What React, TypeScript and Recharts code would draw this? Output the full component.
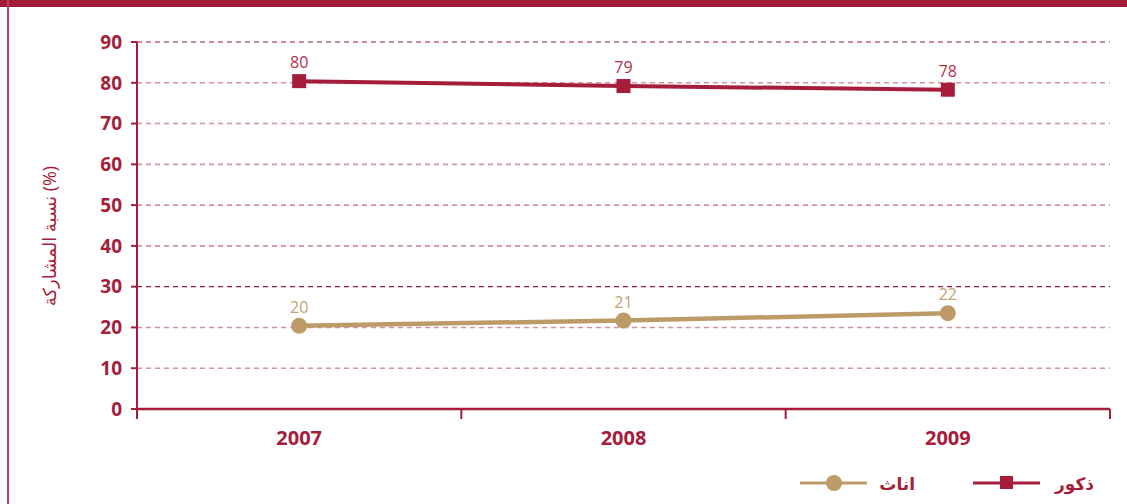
import React from 'react';
import { LineChart, Line, XAxis, YAxis, CartesianGrid, LabelList } from 'recharts';

const years = [2007, 2008, 2009];
const maleValues = [80.4, 79.2, 78.3];
const maleLabels = [80, 79, 78];
const femaleValues = [20.4, 21.7, 23.5];
const femaleLabels = [20, 21, 22];
const yTicks = [0, 10, 20, 30, 40, 50, 60, 70, 80, 90];
const darkGridValues = [30, 90];
const lightGridValues = [10, 20, 40, 50, 60, 70, 80];
const xDomain = [2006.5, 2009.5];
const xTicks = [2006.5, 2007, 2007.5, 2008, 2008.5, 2009, 2009.5];
const maleName = 'ذكور';
const femaleName = 'اناث';
const yTitle = 'نسبة المشاركة (%)';

const RED = '#a51d3b';
const TAN = '#bd9b69';
const TAN_TEXT = '#c4a271';
const FONT = '"Open Sans", "DejaVu Sans", sans-serif';

const data = years.map((y, i) => ({
  year: y,
  male: maleValues[i],
  maleLabel: maleLabels[i],
  female: femaleValues[i],
  femaleLabel: femaleLabels[i],
}));

const SquareDot = (props: any) => {
  const { cx, cy } = props;
  if (cx == null || cy == null) return null;
  return <rect x={cx - 7} y={cy - 7} width={14} height={14} fill={RED} />;
};

const CircleDot = (props: any) => {
  const { cx, cy } = props;
  if (cx == null || cy == null) return null;
  return <circle cx={cx} cy={cy} r={8} fill={TAN} />;
};

const XTick = (props: any) => {
  const { x, y, payload } = props;
  const v = payload.value;
  if (Number.isInteger(v)) {
    return (
      <text x={x} y={y + 36} textAnchor="middle" fill={RED} fontSize={20} fontWeight={700} fontFamily={FONT}>
        {String(v)}
      </text>
    );
  }
  return <line x1={x} y1={y} x2={x} y2={y + 10} stroke={RED} strokeWidth={2} />;
};

export default function App() {
  return (
    <div style={{ position: 'absolute', left: 0, top: 0, width: 1127, height: 504, background: '#fff', overflow: 'hidden' }}>
      <div style={{ position: 'absolute', left: 0, top: 0, width: 1127, height: 7, background: '#a21c37' }} />
      <div style={{ position: 'absolute', left: 7, top: 0, width: 2, height: 504, background: '#b7415a' }} />
      <LineChart width={1127} height={504} data={data} margin={{ top: 42, right: 17, left: 0, bottom: 45 }}>
        <CartesianGrid vertical={false} horizontalValues={lightGridValues} stroke="#d4919f" strokeWidth={1.6} strokeDasharray="5 4" />
        <CartesianGrid vertical={false} horizontalValues={darkGridValues} stroke="#8d1b36" strokeWidth={1.1} strokeDasharray="5 4" />
        <XAxis
          dataKey="year"
          type="number"
          domain={xDomain}
          ticks={xTicks}
          interval={0}
          height={50}
          axisLine={{ stroke: RED, strokeWidth: 2.5 }}
          tickLine={false}
          tickSize={0}
          tickMargin={0}
          tick={<XTick />}
          allowDataOverflow
        />
        <YAxis
          width={137}
          domain={[0, 90]}
          ticks={yTicks}
          interval={0}
          axisLine={{ stroke: RED, strokeWidth: 2 }}
          tickLine={{ stroke: RED, strokeWidth: 2 }}
          tickSize={6}
          tickMargin={9}
          tick={{ fill: RED, fontSize: 19, fontWeight: 700, fontFamily: FONT }}
          label={() => (
            <text
              x={49}
              y={236}
              transform="rotate(-90 49 236)"
              textAnchor="middle"
              dominantBaseline="central"
              fill={RED}
              fontSize={18}
              fontFamily={FONT}
            >
              {yTitle}
            </text>
          )}
        />
        <Line
          dataKey="female"
          stroke={TAN}
          strokeWidth={4.5}
          dot={<CircleDot />}
          activeDot={false}
          isAnimationActive={false}
        >
          <LabelList dataKey="femaleLabel" position="top" offset={13} fill={TAN_TEXT} fontSize={16} fontFamily={FONT} />
        </Line>
        <Line
          dataKey="male"
          stroke={RED}
          strokeWidth={4}
          dot={<SquareDot />}
          activeDot={false}
          isAnimationActive={false}
        >
          <LabelList dataKey="maleLabel" position="top" offset={13} fill="#b0304a" fontSize={16} fontFamily={FONT} />
        </Line>
      </LineChart>
      <svg width={1127} height={504} style={{ position: 'absolute', left: 0, top: 0, pointerEvents: 'none' }}>
        <line x1={800} y1={483} x2={867} y2={483} stroke={TAN} strokeWidth={3} />
        <circle cx={834} cy={483} r={8} fill={TAN} />
        <text x={915} y={483} textAnchor="end" dominantBaseline="central" fill={RED} fontSize={17} fontWeight={600} fontFamily={FONT}>{femaleName}</text>
        <line x1={973} y1={483} x2={1040} y2={483} stroke={RED} strokeWidth={3} />
        <rect x={1000} y={476} width={13} height={13} fill={RED} />
        <text x={1094} y={483} textAnchor="end" dominantBaseline="central" fill={RED} fontSize={17} fontWeight={600} fontFamily={FONT}>{maleName}</text>
      </svg>
    </div>
  );
}
